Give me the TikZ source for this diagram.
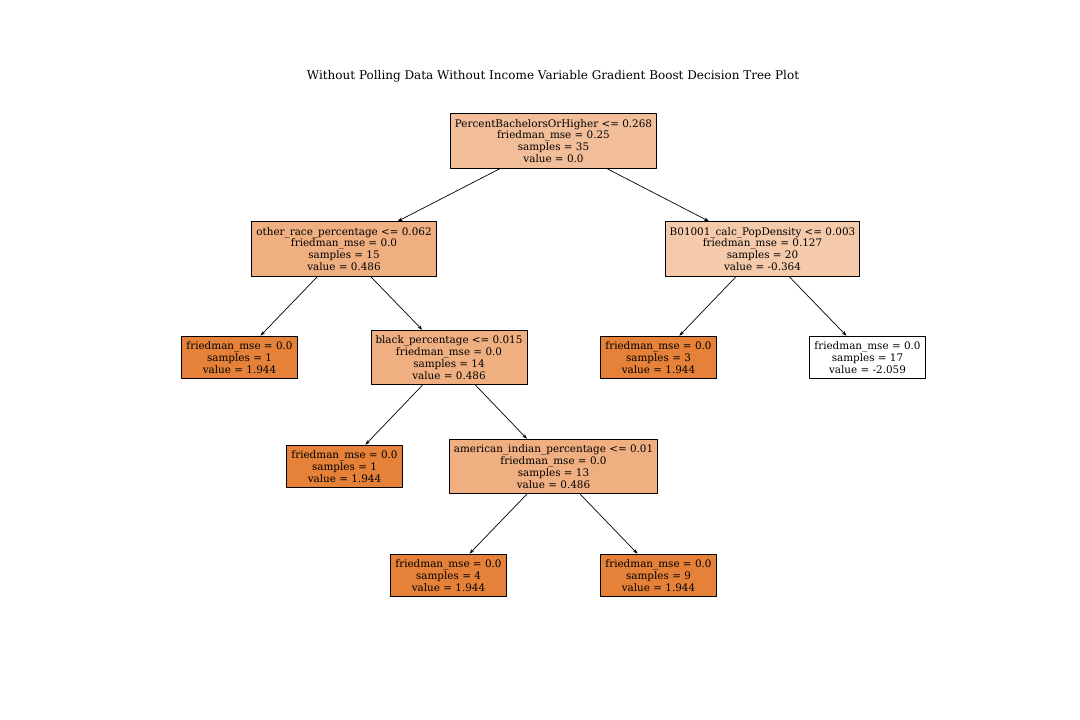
\documentclass[tikz,border=0pt]{standalone}
\usepackage{fontspec}
\setmainfont{DejaVu Serif}
\usetikzlibrary{arrows.meta}
\definecolor{noderoot}{RGB}{242,190,153}
\definecolor{nodemid}{RGB}{239,175,129}
\definecolor{nodelight}{RGB}{244,202,171}
\definecolor{nodeleaf}{RGB}{229,129,57}

\begin{document}
\begin{tikzpicture}[line cap=round,line join=round,x=1pt,y=-1pt,
  >={Stealth[length=5pt,width=3.5pt]},
  box/.style={draw,line width=0.9pt,align=center,inner xsep=4.5pt,inner ysep=5.5pt,
    font=\fontsize{10.4}{11.8}\selectfont},
  edge/.style={->,line width=0.7pt}]
\useasboundingbox (0,0) rectangle (1080,720);
\node [font=\fontsize{12}{14}\selectfont] (title) at (553,76.5)
  {Without Polling Data Without Income Variable Gradient Boost Decision Tree Plot};

%juuri ja sisäsolmut
\node [box,fill=noderoot] (root) at (553.5,141)
  {PercentBachelorsOrHigher <= 0.268\\friedman\_mse = 0.25\\samples = 35\\value = 0.0};
\node [box,fill=nodemid] (race) at (344,249)
  {other\_race\_percentage <= 0.062\\friedman\_mse = 0.0\\samples = 15\\value = 0.486};
\node [box,fill=nodelight] (density) at (762.5,249)
  {B01001\_calc\_PopDensity <= 0.003\\friedman\_mse = 0.127\\samples = 20\\value = -0.364};
\node [box,fill=nodemid] (black) at (449,357.5)
  {black\_percentage <= 0.015\\friedman\_mse = 0.0\\samples = 14\\value = 0.486};
\node [box,fill=nodemid] (indian) at (553.5,466.5)
  {american\_indian\_percentage <= 0.01\\friedman\_mse = 0.0\\samples = 13\\value = 0.486};

%lehdet
\node [box,fill=nodeleaf] (leafa) at (239.5,357.5)
  {friedman\_mse = 0.0\\samples = 1\\value = 1.944};
\node [box,fill=nodeleaf] (leafb) at (658.5,357.5)
  {friedman\_mse = 0.0\\samples = 3\\value = 1.944};
\node [box,fill=white] (leafc) at (867.5,357.5)
  {friedman\_mse = 0.0\\samples = 17\\value = -2.059};
\node [box,fill=nodeleaf] (leafd) at (344.5,466.5)
  {friedman\_mse = 0.0\\samples = 1\\value = 1.944};
\node [box,fill=nodeleaf] (leafe) at (448.5,575.5)
  {friedman\_mse = 0.0\\samples = 4\\value = 1.944};
\node [box,fill=nodeleaf] (leaff) at (658.5,575.5)
  {friedman\_mse = 0.0\\samples = 9\\value = 1.944};

%nuolet
\draw [edge] (root) -- (race);
\draw [edge] (root) -- (density);
\draw [edge] (race) -- (leafa);
\draw [edge] (race) -- (black);
\draw [edge] (density) -- (leafb);
\draw [edge] (density) -- (leafc);
\draw [edge] (black) -- (leafd);
\draw [edge] (black) -- (indian);
\draw [edge] (indian) -- (leafe);
\draw [edge] (indian) -- (leaff);
\end{tikzpicture}
\end{document}
